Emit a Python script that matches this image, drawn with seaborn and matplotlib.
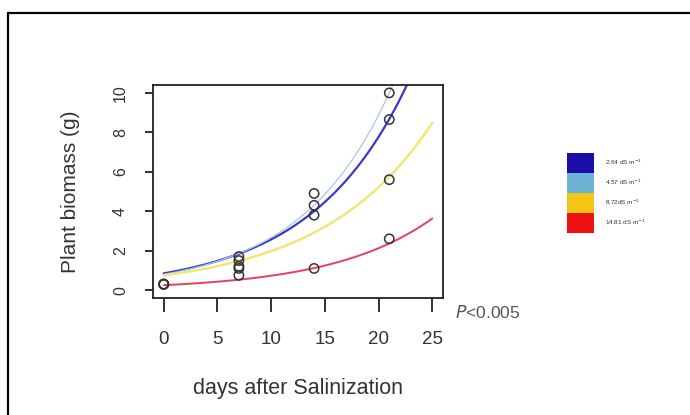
import numpy as np
import pandas as pd
import matplotlib
matplotlib.use("Agg")
import matplotlib.pyplot as plt
from matplotlib.patches import Patch
from matplotlib.lines import Line2D
import seaborn as sns

sns.set_style("white")
plt.rcParams['font.family'] = ['Liberation Sans', 'DejaVu Sans']

# ---- data ----
treatments = ["2.64 dS m$^{-1}$", "4.57 dS m$^{-1}$", "8.72dS m$^{-1}$", "14.81 dS m$^{-1}$"]
fit_a = [0.85, 0.80, 0.75, 0.25]        # exponential fit y = a * exp(b * day)
fit_b = [0.1106, 0.1203, 0.0970, 0.1070]
curve_colors = ["#3a3ac8", "#a8c8e6", "#efe878", "#e8405a"]
curve_widths = [1.6, 0.9, 1.8, 1.4]
legend_colors = ["#1c0ca8", "#6cb4d4", "#f5c518", "#ee1111"]

obs_days = [0, 0, 0, 0, 7, 7, 7, 7, 7, 14, 14, 14, 14, 21, 21, 21, 21]
obs_biomass = [0.3, 0.3, 0.3, 0.3, 1.7, 1.5, 1.2, 1.1, 0.75, 4.9, 4.3, 3.8, 1.1, 10.0, 8.65, 5.6, 2.6]

x_ticks = [0, 5, 10, 15, 20, 25]
y_ticks = [0, 2, 4, 6, 8, 10]

# ---- build curve table from fit parameters ----
days_grid = np.linspace(0, 25, 300)
rows = []
for t, a, b in zip(treatments, fit_a, fit_b):
    for d in days_grid:
        rows.append((t, d, a * np.exp(b * d)))
curves = pd.DataFrame(rows, columns=["treatment", "day", "biomass"])
obs = pd.DataFrame({"day": obs_days, "biomass": obs_biomass})

fig = plt.figure(figsize=(6.9, 4.15), dpi=100)
ax = fig.add_axes([0.2217, 0.2819, 0.4203, 0.5133])

for t, c, w in zip(treatments, curve_colors, curve_widths):
    sns.lineplot(data=curves[curves.treatment == t], x="day", y="biomass",
                 color=c, linewidth=w, ax=ax, legend=False)

sns.scatterplot(data=obs, x="day", y="biomass", ax=ax, marker="o",
                s=45, facecolors="none", edgecolor="#333333", linewidth=1.1,
                legend=False, zorder=5)

ax.set_xlim(-1, 26)
ax.set_ylim(-0.4, 10.4)
ax.set_xticks(x_ticks)
ax.set_yticks(y_ticks)
ax.set_xticklabels([str(v) for v in x_ticks], fontsize=13.5, color="#333333")
ax.set_yticklabels([str(v) for v in y_ticks], fontsize=11.5, color="#333333",
                   rotation=90, va="center")
ax.tick_params(axis="x", bottom=True, direction="out", length=10, width=1.3,
               color="#222222", pad=13.5)
ax.tick_params(axis="y", left=True, direction="out", length=6, width=1.3,
               color="#222222", pad=12)
for s in ax.spines.values():
    s.set_visible(True)
    s.set_color("#222222")
    s.set_linewidth(1.3)
ax.set_xlabel("days after Salinization", fontsize=15.5, color="#333333", labelpad=22)
ax.set_ylabel("Plant biomass (g)", fontsize=15, color="#333333", labelpad=24)

ax.text(1.04, -0.07, "$P$<0.005", transform=ax.transAxes, fontsize=12.5,
        color="#555555", ha="left", va="center")

handles = [Patch(facecolor=c, edgecolor="none") for c in legend_colors]
leg = fig.legend(handles, treatments, loc="upper left",
                 bbox_to_anchor=(0.8217, 0.6313), frameon=False, fontsize=4.6,
                 handlelength=4.23, handleheight=4.44, labelspacing=0.0,
                 handletextpad=1.72, borderpad=0, borderaxespad=0)
for txt in leg.get_texts():
    txt.set_color("#333333")

# figure border (top and left)
fig.add_artist(Line2D([0.0116, 1.0], [0.9687, 0.9687], transform=fig.transFigure,
                      color="black", linewidth=1.6))
fig.add_artist(Line2D([0.0116, 0.0116], [0.0, 0.9687], transform=fig.transFigure,
                      color="black", linewidth=1.6))

fig.savefig("out.png", dpi=100)
